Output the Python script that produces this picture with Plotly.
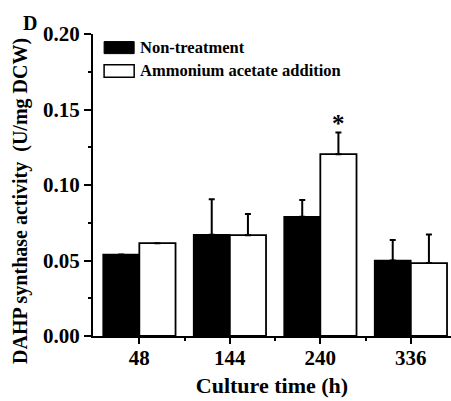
import plotly.graph_objects as go

categories = ["48", "144", "240", "336"]
non_treatment = [0.054, 0.067, 0.079, 0.050]
non_treatment_err = [0.0, 0.0235, 0.011, 0.0135]
ammonium = [0.0615, 0.0668, 0.1204, 0.0483]
ammonium_err = [0.0, 0.014, 0.0143, 0.019]
y_ticks = [0.00, 0.05, 0.10, 0.15, 0.20]
series_names = ["Non-treatment", "Ammonium acetate addition"]
x_title = "Culture time (h)"
y_title = "DAHP synthase activity  (U/mg DCW)"

FONT = "Liberation Serif, Times New Roman, serif"
xpos = list(range(len(categories)))

fig = go.Figure()
fig.add_trace(go.Bar(
    x=xpos, y=non_treatment, name=series_names[0],
    marker=dict(color="black", line=dict(color="black", width=1.5)),
    error_y=dict(type="data", symmetric=False, array=non_treatment_err,
                 arrayminus=[0] * len(categories), color="black", thickness=2, width=3),
    showlegend=False,
))
fig.add_trace(go.Bar(
    x=xpos, y=ammonium, name=series_names[1],
    marker=dict(color="white", line=dict(color="black", width=1.8)),
    error_y=dict(type="data", symmetric=False, array=ammonium_err,
                 arrayminus=[0] * len(categories), color="black", thickness=2, width=3),
    showlegend=False,
))

# significance star above the ammonium bar at 240 h
fig.add_annotation(x=2 + 0.2, y=ammonium[2] + ammonium_err[2], yanchor="bottom",
                   text="<b>*</b>", showarrow=False, yshift=-6,
                   font=dict(family=FONT, size=25, color="black"))

# panel label
fig.add_annotation(xref="paper", yref="paper", x=-0.175, y=1.035, xanchor="center", yanchor="middle",
                   text="<b>D</b>", showarrow=False,
                   font=dict(family=FONT, size=20, color="black"))

# y-axis title (centred lower than the plot centre, as in the original)
fig.add_annotation(xref="paper", yref="paper", x=-0.204, y=0.447, xanchor="center", yanchor="middle",
                   text="<b>" + y_title + "</b>", showarrow=False, textangle=-90,
                   font=dict(family=FONT, size=20, color="black"))

# custom legend (swatches + labels)
leg_x0, leg_x1 = 0.031, 0.115
fig.add_shape(type="rect", xref="paper", yref="paper", x0=leg_x0, x1=leg_x1, y0=0.935, y1=0.975,
              fillcolor="black", line=dict(color="black", width=1))
fig.add_shape(type="rect", xref="paper", yref="paper", x0=leg_x0, x1=leg_x1, y0=0.857, y1=0.898,
              fillcolor="white", line=dict(color="black", width=1.5))
fig.add_annotation(xref="paper", yref="paper", x=0.126, y=0.955, xanchor="left", yanchor="middle",
                   text="<b>" + series_names[0] + "</b>", showarrow=False,
                   font=dict(family=FONT, size=16.5, color="black"))
fig.add_annotation(xref="paper", yref="paper", x=0.126, y=0.878, xanchor="left", yanchor="middle",
                   text="<b>" + series_names[1] + "</b>", showarrow=False,
                   font=dict(family=FONT, size=16.5, color="black"))

fig.update_layout(
    width=451, height=401,
    margin=dict(l=93, r=0, t=33.5, b=65),
    paper_bgcolor="white", plot_bgcolor="white",
    barmode="group", bargap=0.2, bargroupgap=0,
    font=dict(family=FONT, color="black"),
    xaxis=dict(
        range=[-0.512, 3.444], tickmode="array", tickvals=xpos,
        ticktext=["<b>" + c + "</b>" for c in categories],
        showline=True, linecolor="black", linewidth=2, mirror=False,
        ticks="outside", ticklen=6, tickwidth=2, tickcolor="black",
        ticklabelstandoff=-4,
        minor=dict(tickmode="array", tickvals=[0.5, 1.5, 2.5], ticks="outside",
                   ticklen=3, tickwidth=1.5, tickcolor="black"),
        showgrid=False, zeroline=False,
        tickfont=dict(family=FONT, size=21, color="black"),
        title=dict(text="<b>" + x_title + "</b>", standoff=8,
                   font=dict(family=FONT, size=22, color="black")),
    ),
    yaxis=dict(
        range=[0, 0.2], tickmode="array", tickvals=y_ticks,
        ticktext=["<b>%.2f</b>" % v for v in y_ticks],
        showline=True, linecolor="black", linewidth=2,
        ticks="outside", ticklen=7, tickwidth=2, tickcolor="black",
        minor=dict(dtick=0.025, ticks="outside", ticklen=3.5, tickwidth=1.5, tickcolor="black"),
        showgrid=False, zeroline=False,
        tickfont=dict(family=FONT, size=21, color="black"),
    ),
)

fig.write_html("out.html")
